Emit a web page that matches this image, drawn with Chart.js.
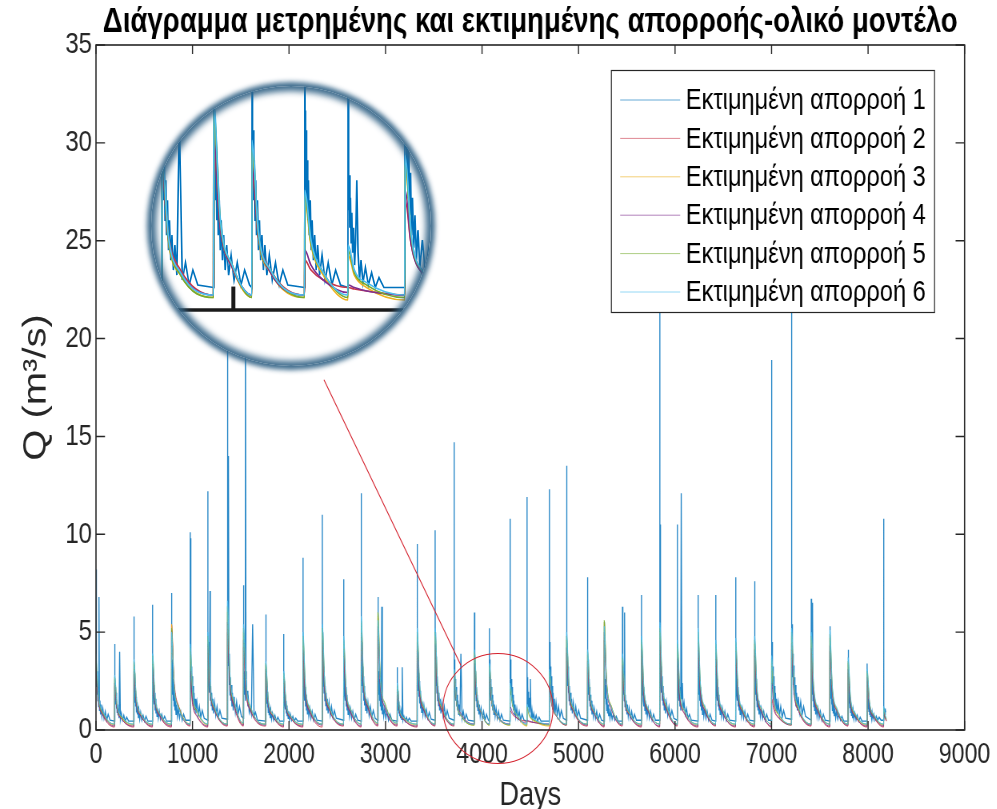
<!DOCTYPE html>
<html><head><meta charset="utf-8">
<script src="https://cdn.jsdelivr.net/npm/chart.js@4"></script>
<style>
html,body{margin:0;padding:0;background:#fff;}
#wrap{position:relative;width:997px;height:809px;overflow:hidden;}
#main{position:absolute;left:0;top:0;transform:scaleX(0.8);transform-origin:0 0;}
#lens{position:absolute;left:151px;top:86px;width:280px;height:280px;border-radius:50%;overflow:hidden;background:#fff;}
#lens canvas{position:absolute;left:0;top:0;}
#ring{position:absolute;left:151px;top:86px;width:280px;height:280px;border-radius:50%;pointer-events:none;
 box-shadow:0 0 5px 4px rgba(52,100,135,0.95), inset 0 0 6px 5px rgba(52,100,135,0.95);}
</style></head>
<body>
<div id="wrap">
<canvas id="main" width="1246" height="809"></canvas>
<div id="lens"><canvas id="zoom" width="280" height="280"></canvas></div>
<div id="ring"></div>
</div>
<script>
// ---------------- data ----------------
const chartTitle = 'Διάγραμμα μετρημένης και εκτιμημένης απορροής-ολικό μοντέλο';
const xLabel = 'Days';
const yLabel = 'Q (m³/s)';
const seriesNames = ['Εκτιμημένη απορροή 1','Εκτιμημένη απορροή 2','Εκτιμημένη απορροή 3',
                     'Εκτιμημένη απορροή 4','Εκτιμημένη απορροή 5','Εκτιμημένη απορροή 6'];
const xTicks = [0,1000,2000,3000,4000,5000,6000,7000,8000,9000];
const yTicks = [0,5,10,15,20,25,30,35];

// day on which each runoff event starts
const eventDays = [1,193,393,586,783,976,1159,1362,1528,1759,1945,2145,2345,2566,2748,2921,3121,3328,3514,3711,
  3921,4076,4290,4466,4697,4876,5093,5266,5455,5652,5842,6024,6238,6421,6628,6824,7000,7207,7411,7604,7793,7990,8162];

// series 1: readings at these day offsets from each event start
const series1Offsets = [-1,0,1,3,5,7,9,12,15,18,22,26,30,35,40,46,52,60,70,82,95,110,125,145];
const series1Values = [
[3.0,8.2,4.0,2.6,3.6,2.2,3.0,1.8,2.6,1.5,2.2,1.2,6.8,1.0,1.5,0.8,1.3,0.7,1.1,0.6,0.95,0.5,0.8,0.5],
[0.45,4.4,3.0,2.0,2.7,1.6,2.2,1.3,1.9,1.1,1.6,0.9,1.3,0.75,1.1,0.6,4.0,0.55,0.85,0.5,0.75,0.45,0.65,0.45],
[0.45,5.8,3.2,2.1,2.9,1.7,2.4,1.4,2.0,1.2,1.7,0.9,1.4,0.8,1.2,0.6,1.0,0.55,0.9,0.5,0.75,0.45,0.7,0.45],
[0.45,6.4,3.5,2.3,3.1,1.9,2.6,1.6,2.3,1.3,1.9,1.0,1.6,0.85,1.3,0.7,1.1,0.6,0.95,0.55,0.8,0.5,0.7,0.45],
[0.45,7.0,4.0,2.6,3.6,2.2,3.0,1.8,2.6,1.5,2.2,1.2,1.8,1.0,1.5,0.8,1.3,0.7,1.1,0.6,0.95,0.5,0.8,0.5],
[0.5,10.1,5.0,9.8,4.5,2.75,3.75,2.25,3.25,1.9,2.75,1.5,2.25,1.25,1.9,1.0,1.6,0.85,1.4,0.75,1.2,0.65,1.0,0.6],
[0.5,12.2,5.0,3.25,4.5,2.75,3.75,2.25,3.25,1.9,7.1,1.5,2.25,1.25,1.9,1.0,1.6,0.85,1.4,0.75,1.2,0.65,1.0,0.6],
[0.55,30,6.0,19,5.4,3.3,4.5,14,3.9,2.3,3.3,1.8,2.7,1.5,2.3,1.2,1.9,1.0,1.7,0.9,1.45,0.8,1.2,0.7],
[0.6,7.4,4.0,2.6,3.6,2.2,3.0,1.8,2.6,1.5,24,3.0,2.6,1.6,2.0,1.2,1.5,0.9,1.1,0.8,5.4,0.7,0.9,0.5],
[0.45,5.9,3.0,2.0,2.7,1.65,2.25,1.35,1.95,1.15,1.65,0.9,1.35,0.75,1.15,0.6,1.0,0.55,0.85,0.5,0.75,0.45,0.65,0.45],
[0.45,4.9,2.8,1.9,2.5,1.5,2.1,1.25,1.8,1.05,1.5,0.85,1.25,0.7,1.05,0.6,0.95,0.5,0.8,0.5,0.7,0.45,0.6,0.45],
[0.45,8.8,4.0,2.6,3.6,2.2,3.0,1.8,2.6,1.5,2.2,1.2,1.8,1.0,1.5,0.8,1.3,0.7,1.1,0.6,0.95,0.5,0.8,0.5],
[0.45,11.0,5.0,3.25,4.5,2.75,3.75,2.25,3.25,1.9,2.75,1.5,2.25,1.25,1.9,1.0,1.6,0.85,1.4,0.75,1.2,0.65,1.0,0.6],
[0.5,7.7,4.0,2.6,3.6,2.2,3.0,1.8,2.6,1.5,2.2,1.2,1.8,1.0,1.5,0.8,1.3,0.7,1.1,0.6,0.95,0.5,0.8,0.5],
[0.45,12.1,5.0,3.25,4.5,2.75,3.75,2.25,3.25,1.9,2.75,1.5,2.25,1.25,1.9,1.0,1.6,0.85,1.4,0.75,1.2,0.65,1.0,0.6],
[0.5,6.8,4.0,2.6,3.6,2.2,3.0,1.8,2.6,1.5,2.2,1.2,1.8,1.0,6.3,0.8,1.3,0.7,1.1,0.6,0.95,0.5,0.8,0.5],
[0.45,3.2,2.2,1.5,2.0,1.2,1.7,1.0,1.45,0.85,1.25,0.7,1.0,0.6,0.9,0.55,3.2,0.5,0.7,0.45,0.65,0.45,0.6,0.45],
[0.45,9.5,4.5,2.9,4.0,2.5,3.4,2.0,2.9,1.7,2.5,1.35,2.0,1.1,1.7,0.9,1.45,0.8,1.25,0.7,1.05,0.6,0.9,0.55],
[0.5,10.2,5.0,3.25,4.5,2.75,3.75,2.25,3.25,1.9,2.75,1.5,2.25,1.25,1.9,1.0,1.6,0.85,1.4,0.75,1.2,0.65,1.0,0.6],
[0.5,14.7,4.0,2.6,3.6,2.2,3.0,1.8,2.6,1.5,2.2,1.2,1.8,1.0,1.5,0.8,1.3,0.7,3.9,0.6,0.95,0.5,0.8,0.5],
[0.45,6.0,4.0,2.6,3.6,2.2,3.0,1.8,2.6,1.5,2.2,1.2,1.8,1.0,1.5,0.8,1.3,0.7,1.1,0.6,0.95,0.5,0.8,0.5],
[0.45,5.2,4.0,2.6,3.6,2.2,3.0,1.8,2.6,1.5,2.2,1.2,1.8,1.0,1.5,0.8,1.3,0.7,1.1,0.6,0.95,0.5,0.8,0.5],
[0.45,10.8,4.0,2.6,3.6,2.2,3.0,1.8,2.6,1.5,2.2,1.2,1.8,1.0,1.5,0.8,1.3,0.7,1.1,0.6,0.95,0.5,0.8,0.5],
[0.45,11.9,3.0,2.0,2.7,1.65,2.25,1.35,1.95,1.15,1.65,0.9,1.35,2.6,1.15,0.6,1.0,0.55,0.85,0.5,0.75,0.45,0.65,0.45],
[0.45,12.3,5.0,3.25,4.5,2.75,3.75,2.25,3.25,1.9,2.75,1.5,2.25,1.25,1.9,1.0,1.6,0.85,1.4,0.75,1.2,0.65,1.0,0.6],
[0.5,13.5,5.0,3.25,4.5,2.75,3.75,2.25,3.25,1.9,2.75,1.5,2.25,1.25,1.9,1.0,1.6,0.85,1.4,0.75,1.2,0.65,1.0,0.6],
[0.5,7.8,4.0,2.6,3.6,2.2,3.0,1.8,2.6,1.5,2.2,1.2,1.8,1.0,1.5,0.8,1.3,0.7,1.1,0.6,0.95,0.5,0.8,0.5],
[0.45,5.5,3.5,2.3,3.1,1.9,2.6,1.6,2.3,1.3,1.9,1.0,1.6,0.85,1.3,0.7,1.1,0.6,0.95,0.55,0.8,0.5,0.7,0.45],
[0.45,6.3,4.0,2.6,3.6,2.2,3.0,1.8,2.6,1.5,6.0,1.2,1.8,1.0,1.5,0.8,1.3,0.7,1.1,0.6,0.95,0.5,0.8,0.5],
[0.5,6.9,4.0,2.6,3.6,2.2,3.0,1.8,2.6,1.5,2.2,1.2,1.8,1.0,1.5,0.8,1.3,0.7,1.1,0.6,0.95,0.5,0.8,0.5],
[0.5,22,5.0,3.25,10.5,2.75,3.75,2.25,3.25,1.9,2.75,1.5,2.25,1.25,1.9,1.0,1.6,0.85,1.4,0.75,1.2,0.65,1.0,0.6],
[0.5,10.5,4.0,2.6,3.6,2.2,3.0,1.8,2.6,1.5,2.2,1.2,1.8,1.0,12.1,1.6,2.4,1.0,1.4,0.8,1.1,0.6,0.8,0.5],
[0.45,6.9,4.0,2.6,3.6,2.2,3.0,1.8,2.6,1.5,2.2,1.2,1.8,1.0,1.5,0.8,1.3,0.7,1.1,0.6,0.95,0.5,0.8,0.5],
[0.45,6.9,4.0,2.6,3.6,2.2,3.0,1.8,2.6,1.5,2.2,1.2,1.8,1.0,1.5,0.8,1.3,0.7,1.1,0.6,0.95,0.5,0.8,0.5],
[0.45,7.8,4.0,2.6,3.6,2.2,3.0,1.8,2.6,1.5,2.2,1.2,1.8,1.0,1.5,0.8,1.3,0.7,1.1,0.6,0.95,0.5,0.8,0.5],
[0.45,7.6,4.0,2.6,3.6,2.2,3.0,1.8,2.6,1.5,2.2,1.2,1.8,1.0,1.5,0.8,1.3,0.7,1.1,0.6,0.95,0.5,0.8,0.5],
[0.5,18.9,5.0,3.25,4.5,2.75,3.75,2.25,3.25,1.9,2.75,1.5,2.25,1.25,1.9,1.0,1.6,0.85,1.4,0.75,1.2,0.65,1.0,0.6],
[0.55,23,10.0,3.9,5.4,3.3,4.5,2.7,3.9,2.3,3.3,1.8,2.7,1.5,2.3,1.2,1.9,1.0,1.7,0.9,1.45,0.8,1.2,0.7],
[0.5,6.7,4.0,2.6,3.6,2.2,3.0,1.8,6.5,1.5,2.2,1.2,1.8,1.0,1.5,0.8,1.3,0.7,1.1,0.6,0.95,0.5,0.8,0.5],
[0.45,5.3,3.5,2.3,3.1,1.9,2.6,1.6,2.3,1.3,1.9,1.0,1.6,0.85,1.3,0.7,1.1,0.6,0.95,0.55,0.8,0.5,0.7,0.45],
[0.45,4.1,3.0,2.0,2.7,1.65,2.25,1.35,1.95,1.15,1.65,0.9,1.35,0.75,1.15,0.6,1.0,0.55,0.85,0.5,0.75,0.45,0.65,0.45],
[0.45,3.4,2.5,1.7,2.2,1.4,1.9,1.1,1.6,0.95,1.4,0.8,1.1,0.7,1.0,0.6,0.9,0.55,0.8,0.5,0.7,0.5,0.65,0.5],
[0.5,10.8,1.2,0.9,1.1,0.8,1.0,0.8,1.1,0.9,1.0,1.0]
];

// knot days shared by the five smooth model series (4 per event)
const modelDays = [
1,26,76,192, 193,218,268,392, 393,418,468,585, 586,611,661,782, 783,808,858,975,
976,1001,1051,1158, 1159,1184,1234,1361, 1362,1387,1437,1527, 1528,1553,1603,1758, 1759,1784,1834,1944,
1945,1970,2020,2144, 2145,2170,2220,2344, 2345,2370,2420,2565, 2566,2591,2641,2747, 2748,2773,2823,2920,
2921,2946,2996,3120, 3121,3146,3196,3327, 3328,3353,3403,3513, 3514,3539,3589,3710, 3711,3736,3786,3920,
3921,3946,3996,4075, 4076,4101,4151,4289, 4290,4315,4365,4465, 4466,4491,4541,4696, 4697,4722,4772,4875,
4876,4901,4951,5092, 5093,5118,5168,5265, 5266,5291,5341,5454, 5455,5480,5530,5651, 5652,5677,5727,5841,
5842,5867,5917,6023, 6024,6049,6099,6237, 6238,6263,6313,6420, 6421,6446,6496,6627, 6628,6653,6703,6823,
6824,6849,6899,6999, 7000,7025,7075,7206, 7207,7232,7282,7410, 7411,7436,7486,7603, 7604,7629,7679,7792,
7793,7818,7868,7989, 7990,8015,8065,8161, 8162,8172,8182,8190
];

const series2 = [
[3.0,1.5,0.7,0.15],[2.2,1.1,0.55,0.15],[2.8,1.4,0.7,0.15],[3.0,1.5,0.7,0.15],[5.4,2.6,1.2,0.2],
[2.5,1.3,0.65,0.15],[4.2,2.0,0.95,0.2],[5.0,2.4,1.1,0.2],[4.2,2.0,0.95,0.2],[2.9,1.4,0.7,0.15],
[2.4,1.2,0.6,0.15],[3.6,1.8,0.85,0.15],[4.3,2.1,1.0,0.2],[3.5,1.7,0.85,0.15],[4.6,2.2,1.05,0.2],
[4.8,2.3,1.1,0.2],[1.9,0.95,0.5,0.15],[4.0,1.9,0.95,0.2],[4.1,2.0,0.95,0.2],[2.75,1.5,0.8,0.3],
[3.2,1.7,0.85,0.3],[2.75,1.5,0.8,0.3],[1.0,0.8,0.6,0.45],[0.45,0.42,0.38,0.3],[2.2,1.3,0.7,0.25],
[3.9,1.9,0.9,0.2],[3.2,1.6,0.8,0.15],[4.6,2.2,1.05,0.2],[3.0,1.5,0.75,0.15],[3.8,1.8,0.9,0.15],
[4.3,2.1,1.0,0.2],[3.2,1.6,0.8,0.15],[4.0,1.9,0.95,0.2],[3.6,1.7,0.85,0.15],[3.7,1.8,0.9,0.15],
[3.8,1.8,0.9,0.15],[1.6,1.0,0.6,0.3],[4.1,2.0,0.95,0.2],[3.9,1.9,0.9,0.15],[4.0,1.9,0.95,0.2],
[2.9,1.4,0.7,0.15],[2.5,1.2,0.6,0.15],[0.9,0.7,0.55,0.45]
];
const series3 = [
[3.5,1.6,0.8,0.25],[2.6,1.2,0.6,0.25],[3.4,1.5,0.75,0.25],[3.6,1.6,0.8,0.25],[5.4,2.4,1.2,0.3],
[4.0,1.8,0.9,0.25],[4.6,2.1,1.0,0.3],[6.0,2.7,1.3,0.3],[5.0,2.3,1.1,0.3],[3.3,1.5,0.75,0.25],
[2.8,1.3,0.65,0.25],[4.6,2.1,1.0,0.3],[5.0,2.3,1.1,0.3],[4.4,2.0,1.0,0.3],[5.4,2.4,1.2,0.3],
[5.8,2.6,1.3,0.3],[2.2,1.0,0.55,0.25],[4.8,2.2,1.05,0.3],[4.8,2.2,1.05,0.3],[2.9,1.4,0.7,0.25],
[3.9,1.8,0.85,0.25],[3.2,1.5,0.75,0.25],[2.2,1.3,0.7,0.2],[1.1,0.7,0.45,0.2],[2.9,1.4,0.7,0.25],
[4.6,2.1,1.0,0.3],[3.8,1.7,0.85,0.25],[5.5,2.5,1.2,0.3],[3.6,1.6,0.8,0.25],[4.4,2.0,1.0,0.3],
[5.0,2.3,1.1,0.3],[4.2,1.9,0.95,0.25],[4.8,2.2,1.05,0.3],[4.2,1.9,0.95,0.25],[4.3,1.95,0.95,0.25],
[4.4,2.0,1.0,0.3],[3.4,1.5,0.75,0.25],[4.8,2.2,1.05,0.3],[4.6,2.1,1.0,0.3],[4.7,2.1,1.0,0.3],
[3.4,1.5,0.75,0.25],[2.9,1.4,0.7,0.25],[1.0,0.8,0.6,0.5]
];
const series4 = [
[3.2,1.5,0.75,0.2],[2.4,1.1,0.55,0.2],[3.0,1.4,0.7,0.2],[3.2,1.5,0.75,0.2],[5.1,2.4,1.15,0.25],
[3.0,1.4,0.7,0.2],[4.4,2.0,0.95,0.25],[5.5,2.5,1.2,0.25],[4.6,2.1,1.0,0.25],[3.1,1.4,0.7,0.2],
[2.6,1.2,0.6,0.2],[4.1,1.9,0.9,0.25],[4.6,2.1,1.0,0.25],[4.0,1.8,0.9,0.2],[5.0,2.3,1.1,0.25],
[5.3,2.4,1.15,0.25],[2.0,0.95,0.5,0.2],[4.4,2.0,0.95,0.25],[4.4,2.0,0.95,0.25],[2.8,1.45,0.75,0.3],
[3.4,1.7,0.85,0.3],[2.9,1.5,0.75,0.3],[1.2,0.9,0.6,0.35],[0.5,0.45,0.38,0.3],[2.4,1.3,0.7,0.25],
[4.2,1.9,0.95,0.25],[3.5,1.6,0.8,0.2],[5.0,2.3,1.1,0.25],[3.3,1.5,0.75,0.2],[4.1,1.9,0.9,0.2],
[4.6,2.1,1.0,0.25],[3.7,1.7,0.85,0.2],[4.4,2.0,0.95,0.25],[3.9,1.8,0.85,0.2],[4.0,1.8,0.9,0.2],
[4.1,1.9,0.9,0.2],[2.4,1.2,0.65,0.25],[4.4,2.0,0.95,0.25],[4.2,1.9,0.95,0.2],[4.3,2.0,0.95,0.25],
[3.1,1.4,0.7,0.2],[2.7,1.25,0.65,0.2],[0.95,0.75,0.58,0.48]
];
const series5 = [
[3.7,1.7,0.85,0.3],[2.7,1.25,0.65,0.3],[3.5,1.6,0.8,0.3],[3.8,1.7,0.85,0.3],[5.2,2.4,1.15,0.3],
[4.2,1.9,0.95,0.3],[4.8,2.2,1.05,0.3],[6.3,2.8,1.35,0.35],[5.2,2.4,1.15,0.3],[3.4,1.6,0.8,0.3],
[2.9,1.35,0.7,0.3],[4.8,2.2,1.05,0.3],[5.2,2.4,1.15,0.3],[4.6,2.1,1.05,0.3],[5.6,2.5,1.25,0.35],
[6.0,2.7,1.35,0.35],[2.3,1.05,0.6,0.3],[5.0,2.3,1.1,0.3],[5.0,2.3,1.1,0.3],[3.0,1.45,0.7,0.25],
[4.0,1.85,0.9,0.25],[3.3,1.55,0.8,0.25],[2.3,1.35,0.75,0.25],[1.2,0.75,0.5,0.25],[3.0,1.45,0.75,0.3],
[4.8,2.2,1.05,0.3],[4.0,1.8,0.9,0.3],[5.6,2.5,1.2,0.3],[3.7,1.7,0.85,0.3],[4.6,2.1,1.0,0.3],
[5.2,2.4,1.15,0.3],[4.4,2.0,1.0,0.3],[5.0,2.3,1.1,0.3],[4.4,2.0,1.0,0.3],[4.5,2.05,1.0,0.3],
[4.6,2.1,1.05,0.3],[3.6,1.6,0.8,0.3],[5.0,2.3,1.1,0.3],[4.8,2.2,1.05,0.3],[4.9,2.2,1.05,0.3],
[3.5,1.6,0.8,0.3],[3.0,1.4,0.7,0.3],[1.1,0.85,0.65,0.55]
];
const series6 = [
[3.9,1.8,0.9,0.3],[2.8,1.3,0.7,0.3],[3.6,1.65,0.8,0.3],[3.9,1.75,0.85,0.3],[5.0,2.3,1.1,0.3],
[4.4,2.0,1.0,0.3],[5.0,2.3,1.1,0.3],[6.6,3.0,1.4,0.35],[5.4,2.5,1.2,0.3],[3.5,1.6,0.8,0.3],
[3.0,1.4,0.7,0.3],[5.0,2.3,1.1,0.3],[5.4,2.5,1.2,0.3],[4.8,2.2,1.05,0.3],[5.8,2.6,1.3,0.35],
[5.6,2.6,1.25,0.35],[2.4,1.1,0.6,0.3],[5.2,2.4,1.15,0.3],[5.2,2.4,1.15,0.3],[3.1,1.5,0.75,0.3],
[4.1,1.9,0.9,0.3],[3.4,1.6,0.8,0.3],[2.4,1.4,0.75,0.3],[1.3,0.8,0.55,0.3],[3.1,1.5,0.75,0.3],
[5.0,2.3,1.1,0.3],[4.1,1.9,0.9,0.3],[5.3,2.4,1.15,0.3],[3.9,1.8,0.85,0.3],[4.8,2.2,1.05,0.3],
[5.5,2.5,1.2,0.3],[4.6,2.1,1.0,0.3],[5.2,2.4,1.15,0.3],[4.6,2.1,1.0,0.3],[4.7,2.15,1.05,0.3],
[4.8,2.2,1.05,0.3],[3.8,1.7,0.85,0.3],[5.2,2.4,1.15,0.3],[5.0,2.3,1.1,0.3],[5.1,2.3,1.1,0.3],
[3.7,1.7,0.85,0.3],[3.1,1.45,0.75,0.3],[1.2,0.9,0.7,0.6]
];

// zoom annotation (data coordinates) and the magnified view window
const zoomCircle = {day: 4165, q: 1.1, radiusPx: 55};
const zoomLink = {from: [2362, 17.9], to: [3782, 3.3]};
const lensView = {xMin: 3666, xMax: 4802, yMin: -1.122, yMax: 4.489};
const lensAxis = {from: 3750, to: 4690, tick: 4000, tickTop: 0.47};

// ---------------- build ----------------
const SX = 0.8; // the figure is drawn wide and shown horizontally condensed
const colors = ['#0072BD','#C8374A','#EDB120','#7E2F8E','#77AC30','#4DBEEE'];
const font = "'Liberation Sans', Arial, Helvetica, sans-serif";

function series1XY(){
  const pts = [];
  eventDays.forEach((d, e)=>{
    series1Values[e].forEach((q, j)=>{ pts.push({x: d + series1Offsets[j], y: q}); });
  });
  return pts;
}
function modelXY(quads){ const v = quads.flat(); return modelDays.map((d,i)=>({x:d,y:v[i]})); }
function buildDatasets(width1, width, alpha){
  const sets = [series1XY(), modelXY(series2), modelXY(series3),
                modelXY(series4), modelXY(series5), modelXY(series6)];
  return sets.map((data,i)=>({
    label: seriesNames[i], data, borderColor: colors[i] + alpha, backgroundColor: colors[i],
    borderWidth: i === 0 ? width1 : width, pointRadius: 0, fill: false, order: 6 - i,
    tension: 0, cubicInterpolationMode: i === 0 ? 'default' : 'monotone'
  }));
}

const framePlugin = {
  id: 'frame',
  afterDatasetsDraw(chart){
    const {ctx, chartArea: a, scales: {x, y}} = chart;
    ctx.save();
    ctx.strokeStyle = '#D4202C'; ctx.lineWidth = 1.1;
    ctx.beginPath();
    ctx.ellipse(x.getPixelForValue(zoomCircle.day), y.getPixelForValue(zoomCircle.q),
                zoomCircle.radiusPx / SX, zoomCircle.radiusPx, 0, 0, Math.PI*2);
    ctx.stroke();
    ctx.beginPath();
    ctx.moveTo(x.getPixelForValue(zoomLink.from[0]), y.getPixelForValue(zoomLink.from[1]));
    ctx.lineTo(x.getPixelForValue(zoomLink.to[0]), y.getPixelForValue(zoomLink.to[1]));
    ctx.stroke();
    ctx.strokeStyle = '#262626'; ctx.lineWidth = 1.6;
    ctx.strokeRect(a.left, a.top, a.right - a.left, a.bottom - a.top);
    ctx.lineWidth = 1.4;
    ctx.beginPath();
    const tl = 9;
    xTicks.forEach(v=>{ const px = x.getPixelForValue(v);
      ctx.moveTo(px, a.bottom); ctx.lineTo(px, a.bottom - tl);
      ctx.moveTo(px, a.top); ctx.lineTo(px, a.top + tl); });
    yTicks.forEach(v=>{ const py = y.getPixelForValue(v);
      ctx.moveTo(a.left, py); ctx.lineTo(a.left + tl / SX, py);
      ctx.moveTo(a.right, py); ctx.lineTo(a.right - tl / SX, py); });
    ctx.stroke();
    ctx.restore();
  },
  afterDraw(chart){
    const {ctx, chartArea: a} = chart;
    const w = 404, h = 242, bx = a.right - 37.5 - w, by = a.top + 25;
    ctx.save();
    ctx.fillStyle = '#fff'; ctx.fillRect(bx, by, w, h);
    ctx.strokeStyle = '#262626'; ctx.lineWidth = 1.2; ctx.strokeRect(bx, by + 0.5, w, h);
    ctx.font = '29.5px ' + font; ctx.textBaseline = 'middle'; ctx.fillStyle = '#000';
    chart.data.datasets.forEach((ds, i)=>{
      const yy = by + 30 + i * 38.4;
      ctx.strokeStyle = colors[i] + '99'; ctx.lineWidth = 1;
      ctx.beginPath(); ctx.moveTo(bx + 11, yy); ctx.lineTo(bx + 86, yy); ctx.stroke();
      ctx.fillText(ds.label, bx + 93, yy + 1);
    });
    ctx.restore();
  }
};

new Chart(document.getElementById('main'), {
  type: 'line',
  data: { datasets: buildDatasets(1.35, 1, 'dd') },
  options: {
    responsive: false, animation: false,
    layout: { padding: { left: 0, right: 38.5, top: 0, bottom: 0 } },
    plugins: {
      legend: { display: false }, tooltip: { enabled: false },
      title: { display: true, text: chartTitle, fullSize: false, color: '#000',
               font: { family: font, size: 34.5, weight: 'bold', lineHeight: 1.2 },
               padding: { top: 2, bottom: 1.6 } }
    },
    scales: {
      x: { type: 'linear', min: 0, max: 9000,
           afterFit(s){ s.height = 79; },
           afterBuildTicks(s){ s.ticks = xTicks.map(v=>({value:v})); },
           grid: { display: false, drawTicks: false }, border: { display: false },
           ticks: { color: '#262626', font: { family: font, size: 29 }, padding: 8, maxRotation: 0, autoSkip: false,
                    callback: v => String(v) },
           title: { display: true, text: xLabel, color: '#262626', font: { family: font, size: 34, lineHeight: 0.8 }, padding: { top: 0, bottom: 0 } } },
      y: { type: 'linear', min: 0, max: 35,
           afterFit(s){ s.width = 120; },
           afterBuildTicks(s){ s.ticks = yTicks.map(v=>({value:v})); },
           grid: { display: false, drawTicks: false }, border: { display: false },
           ticks: { color: '#262626', font: { family: font, size: 30 }, padding: 5, callback: v => String(v) },
           title: { display: true, text: yLabel, color: '#262626', font: { family: font, size: 40, lineHeight: 1.2 }, padding: { top: 22, bottom: 0 } } }
    }
  },
  plugins: [framePlugin]
});

// ---------------- magnified view ----------------
const lensPlugin = {
  id: 'lensAxis',
  afterDatasetsDraw(chart){
    const {ctx, scales: {x, y}} = chart;
    ctx.save();
    ctx.strokeStyle = '#1a1a1a'; ctx.lineCap = 'butt';
    ctx.lineWidth = 3.5;
    ctx.beginPath();
    ctx.moveTo(x.getPixelForValue(lensAxis.from), y.getPixelForValue(0));
    ctx.lineTo(x.getPixelForValue(lensAxis.to), y.getPixelForValue(0));
    ctx.stroke();
    ctx.lineWidth = 4;
    ctx.beginPath();
    ctx.moveTo(x.getPixelForValue(lensAxis.tick), y.getPixelForValue(0));
    ctx.lineTo(x.getPixelForValue(lensAxis.tick), y.getPixelForValue(lensAxis.tickTop));
    ctx.stroke();
    ctx.restore();
  }
};
new Chart(document.getElementById('zoom'), {
  type: 'line',
  data: { datasets: buildDatasets(1.6, 1.6, 'ff') },
  options: {
    responsive: false, animation: false,
    layout: { padding: 0 },
    plugins: { legend: { display: false }, tooltip: { enabled: false }, title: { display: false } },
    scales: {
      x: { type: 'linear', display: false, min: lensView.xMin, max: lensView.xMax },
      y: { type: 'linear', display: false, min: lensView.yMin, max: lensView.yMax }
    }
  },
  plugins: [lensPlugin]
});
</script>
</body></html>
